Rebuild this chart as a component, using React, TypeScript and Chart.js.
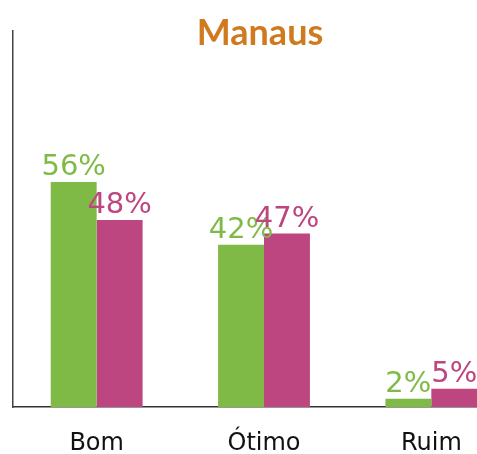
import React, { useEffect, useRef } from "react";
import { Chart, registerables } from "chart.js";

Chart.register(...registerables);

const categories = ["Bom", "Ótimo", "Ruim"];
const seriesA = [56.3, 40.6, 2.1];
const seriesB = [46.8, 43.4, 4.6];
const labelsA = ["56%", "42%", "2%"];
const labelsB = ["48%", "47%", "5%"];
const colorA = "#7FBA47";
const colorB = "#BD4680";
const titleText = "Manaus";
const FONT = "'DejaVu Sans', sans-serif";
const TITLE_FONT = "Lato, 'Open Sans', sans-serif";

const valueLabels = {
  id: "valueLabels",
  afterDatasetsDraw(chart: any) {
    const ctx = chart.ctx;
    const texts = [labelsA, labelsB];
    ctx.save();
    ctx.font = `400 29px ${FONT}`;
    ctx.textAlign = "center";
    ctx.textBaseline = "alphabetic";
    chart.data.datasets.forEach((ds: any, di: number) => {
      const meta = chart.getDatasetMeta(di);
      ctx.fillStyle = ds.backgroundColor;
      meta.data.forEach((el: any, i: number) => {
        ctx.fillText(texts[di][i], el.x, el.y - 7);
      });
    });
    ctx.restore();
  },
};

export default function App() {
  const ref = useRef<HTMLCanvasElement | null>(null);
  useEffect(() => {
    if (!ref.current) return;
    const chart = new Chart(ref.current, {
      type: "bar",
      data: {
        labels: categories,
        datasets: [
          { data: seriesA, backgroundColor: colorA, borderWidth: 0 },
          { data: seriesB, backgroundColor: colorB, borderWidth: 0 },
        ],
      },
      options: {
        animation: false,
        responsive: false,
        events: [],
        layout: { padding: { left: 5, right: 0, top: 0, bottom: 0 } },
        datasets: { bar: { categoryPercentage: 0.549, barPercentage: 1.0 } },
        plugins: {
          legend: { display: false },
          tooltip: { enabled: false },
          title: {
            display: true,
            text: titleText,
            color: "#D07A20",
            font: { family: TITLE_FONT, size: 36, weight: "bold" },
            padding: { top: 12, bottom: -24 },
          },
        },
        scales: {
          x: {
            grid: { display: false },
            border: { display: true, color: "#333", width: 1.5 },
            ticks: { color: "#111", font: { family: FONT, size: 24 }, padding: 14 },
          },
          y: {
            min: 0,
            max: 94,
            grid: { display: false },
            border: { display: true, color: "#444", width: 1.5 },
            ticks: { display: false },
          },
        },
      },
      plugins: [valueLabels],
    });
    return () => chart.destroy();
  }, []);
  return (
    <div style={{ position: "fixed", left: 0, top: 0, width: 477, height: 454, overflow: "hidden", background: "#fff" }}>
      <canvas ref={ref} width={515} height={472} style={{ display: "block" }} />
    </div>
  );
}
